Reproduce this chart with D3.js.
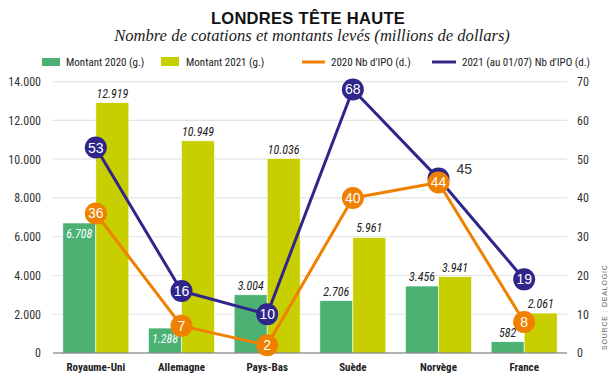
<!DOCTYPE html>
<html><head><meta charset="utf-8">
<script src="https://cdn.jsdelivr.net/npm/d3@7"></script>
<style>
body{margin:0;background:#fff;}
svg{display:block;}
</style></head>
<body><svg id="c" width="613" height="382"></svg>
<script>
const categories = ["Royaume-Uni","Allemagne","Pays-Bas","Suède","Norvège","France"];
const amount2020 = [6708,1288,3004,2706,3456,582];
const amount2021 = [12919,10949,10036,5961,3941,2061];
const ipo2020 = [36,7,2,40,44,8];
const ipo2021 = [53,16,10,68,45,19];
const leftTicks = [0,2000,4000,6000,8000,10000,12000,14000];
const rightTicks = [0,10,20,30,40,50,60,70];

const svg = d3.select("#c");
const L=53,R=567,T=81.7,B=353;
const narrow = "'Liberation Sans Narrow','Roboto Condensed','Arial Narrow',sans-serif";
const cGreen="#4bb274", cYellow="#c8cf00", cOrange="#f08000", cNavy="#30258a";

const x = d3.scaleBand().domain(categories).range([L,R]);
const yL = d3.scaleLinear().domain([0,14000]).range([B,T]);
const yR = d3.scaleLinear().domain([0,70]).range([B,T]);
const fmt = v => d3.format(",")(v).replace(/,/g,".");

// title
svg.append("text").attr("x",308).attr("y",24).attr("text-anchor","middle")
  .style("font-family","'Liberation Sans','Arial',sans-serif").style("font-weight","900")
  .style("font-size","16.5px").attr("fill","#111").style("letter-spacing","0.3px").text("LONDRES TÊTE HAUTE");
svg.append("text").attr("x",312).attr("y",41).attr("text-anchor","middle")
  .style("font-family","'Liberation Serif','DejaVu Serif',serif").style("font-style","italic")
  .style("font-size","16.6px").attr("fill","#222").text("Nombre de cotations et montants levés (millions de dollars)");

// legend
const lg = svg.append("g").style("font-family",narrow).style("font-size","11px").attr("fill","#222");
lg.append("rect").attr("x",42).attr("y",58).attr("width",18).attr("height",8).attr("fill",cGreen);
lg.append("text").attr("x",66).attr("y",66).text("Montant 2020 (g.)");
lg.append("rect").attr("x",161).attr("y",57).attr("width",18).attr("height",9).attr("fill",cYellow);
lg.append("text").attr("x",186).attr("y",66).text("Montant 2021 (g.)");
lg.append("line").attr("x1",302).attr("x2",325).attr("y1",62).attr("y2",62).attr("stroke",cOrange).attr("stroke-width",3);
lg.append("text").attr("x",331).attr("y",66).text("2020 Nb d'IPO (d.)");
lg.append("line").attr("x1",432).attr("x2",456).attr("y1",62).attr("y2",62).attr("stroke",cNavy).attr("stroke-width",3);
lg.append("text").attr("x",462).attr("y",66).text("2021 (au 01/07) Nb d'IPO (d.)");

// grid
svg.append("g").selectAll("line").data(leftTicks.filter(d=>d>0)).join("line")
  .attr("x1",L).attr("x2",R).attr("y1",d=>yL(d)).attr("y2",d=>yL(d))
  .attr("stroke","#e3e3e3").attr("stroke-width",1.2);

// left axis
const la = svg.append("g").attr("transform",`translate(${L},0)`)
  .call(d3.axisLeft(yL).tickValues(leftTicks).tickFormat(fmt).tickSize(0).tickPadding(12));
la.select(".domain").remove();
la.selectAll("text").style("font-family",narrow).style("font-size","12px").attr("fill","#333");

// right axis
const ra = svg.append("g").attr("transform",`translate(${R},0)`)
  .call(d3.axisRight(yR).tickValues(rightTicks).tickSize(0).tickPadding(10));
ra.select(".domain").remove();
ra.selectAll("text").style("font-family",narrow).style("font-size","12px").attr("fill","#333");

// bars
const bw = 33;
const bars = svg.append("g");
bars.selectAll(".b20").data(categories).join("rect")
  .attr("x",d=>x(d)+x.bandwidth()/2-bw).attr("width",bw)
  .attr("y",(d,i)=>yL(amount2020[i])).attr("height",(d,i)=>B-yL(amount2020[i]))
  .attr("fill",cGreen).attr("stroke","#fff").attr("stroke-width",0.6);
bars.selectAll(".b21").data(categories).join("rect")
  .attr("x",d=>x(d)+x.bandwidth()/2).attr("width",bw)
  .attr("y",(d,i)=>yL(amount2021[i])).attr("height",(d,i)=>B-yL(amount2021[i]))
  .attr("fill",cYellow).attr("stroke","#fff").attr("stroke-width",0.6);

// baseline
svg.append("line").attr("x1",L).attr("x2",R).attr("y1",B).attr("y2",B).attr("stroke","#666").attr("stroke-width",1.2);

// bar value labels
const vl = svg.append("g").style("font-family",narrow).style("font-style","italic").style("font-size","12px").attr("text-anchor","middle");
categories.forEach((c,i)=>{
  const cx20 = x(c)+x.bandwidth()/2-bw/2;
  const inside = (i<2);
  vl.append("text").attr("x",cx20).attr("y", inside ? yL(amount2020[i])+15 : yL(amount2020[i])-5)
    .attr("fill", inside?"#fff":"#222").text(fmt(amount2020[i]));
  vl.append("text").attr("x",x(c)+x.bandwidth()/2+bw/2).attr("y",yL(amount2021[i])-5)
    .attr("fill","#222").text(fmt(amount2021[i]));
});

// x labels
svg.append("g").selectAll("text").data(categories).join("text")
  .attr("x",d=>x(d)+x.bandwidth()/2).attr("y",371).attr("text-anchor","middle")
  .style("font-family",narrow).style("font-weight","bold").style("font-size","11px").attr("fill","#222").text(d=>d);

// lines
const line = d3.line().x((d,i)=>x(categories[i])+x.bandwidth()/2);
function series(vals,col){
  const g = svg.append("g");
  g.append("path").datum(vals).attr("d",line.y(d=>yR(d))).attr("fill","none").attr("stroke",col).attr("stroke-width",3).attr("stroke-linejoin","round");
  return g;
}
const gN = series(ipo2021,cNavy);
series(ipo2020,cOrange);
gN.selectAll("circle").data(ipo2021).join("circle")
  .attr("cx",(d,i)=>x(categories[i])+x.bandwidth()/2).attr("cy",d=>yR(d)).attr("r",11).attr("fill",cNavy);
gN.selectAll("text").data(ipo2021).join("text")
  .attr("x",(d,i)=>x(categories[i])+x.bandwidth()/2 + (i===4?18:0)).attr("y",(d,i)=>yR(d)+(i===4?-5:5))
  .attr("text-anchor",(d,i)=>i===4?"start":"middle")
  .style("font-family","'Liberation Sans',Arial,sans-serif").style("font-size","14px")
  .attr("fill",(d,i)=>i===4?"#333":"#fff").text(d=>d);
const oc = svg.append("g");
oc.selectAll("circle").data(ipo2020).join("circle")
  .attr("cx",(d,i)=>x(categories[i])+x.bandwidth()/2).attr("cy",d=>yR(d)).attr("r",11).attr("fill",cOrange);
oc.selectAll("text").data(ipo2020).join("text")
  .attr("x",(d,i)=>x(categories[i])+x.bandwidth()/2).attr("y",d=>yR(d)+5)
  .attr("text-anchor","middle")
  .style("font-family","'Liberation Sans',Arial,sans-serif").style("font-size","14px")
  .attr("fill","#fff").text(d=>d);

// source
svg.append("text").attr("transform","translate(607,350) rotate(-90)")
  .style("font-family","'Liberation Sans',Arial,sans-serif").style("font-size","7px").style("letter-spacing","0.8px")
  .attr("fill","#666").text("SOURCE : DEALOGIC");
</script></body></html>
